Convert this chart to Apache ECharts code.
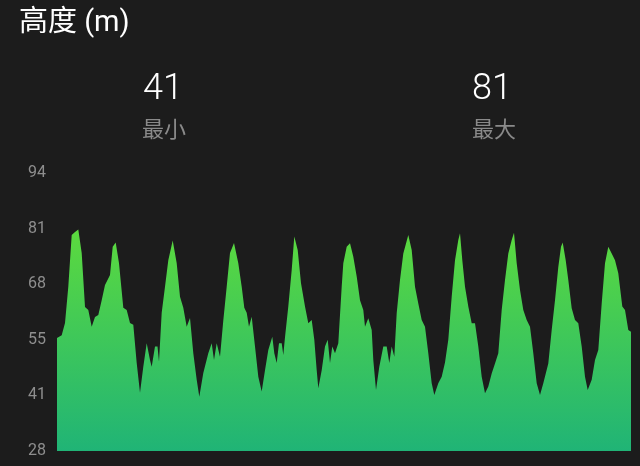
<!DOCTYPE html>
<html>
<head>
<meta charset="utf-8">
<script src="https://cdn.jsdelivr.net/npm/echarts@6/dist/echarts.min.js"></script>
<style>
html,body{margin:0;padding:0;background:#1c1c1c;}
#c{width:640px;height:466px;}
</style>
</head>
<body>
<div id="c"></div>
<script>
// distance along route (arbitrary units) and elevation (m)
var distance = [0,0.47,0.8,1.13,1.47,1.8,2.13,2.47,2.8,3.13,3.47,3.8,4.13,4.47,4.8,5.3,5.57,5.87,6.2,6.63,6.97,7.3,7.63,7.97,8.3,8.63,8.97,9.3,9.47,9.8,10.05,10.2,10.47,10.8,11.13,11.57,11.97,12.3,12.63,12.97,13.3,13.63,13.97,14.23,14.63,15.13,15.47,15.7,15.97,16.3,16.63,16.97,17.3,17.7,18.13,18.47,18.73,18.97,19.2,19.47,19.8,20.13,20.47,20.8,21.13,21.53,21.73,21.97,22.2,22.47,22.63,22.8,23.13,23.47,23.73,24.07,24.4,24.8,25.13,25.47,25.73,25.97,26.13,26.47,26.8,27.07,27.3,27.53,27.8,28.13,28.47,28.63,28.97,29.3,29.63,29.97,30.3,30.63,30.8,31.13,31.47,31.63,31.9,32.23,32.63,32.97,33.23,33.47,33.73,33.97,34.3,34.63,35.13,35.47,35.8,36.13,36.47,36.8,37.13,37.47,37.73,38.13,38.47,38.8,39.13,39.47,39.8,40.13,40.3,40.53,40.8,41.13,41.47,41.8,42.13,42.47,42.8,43.13,43.47,43.8,44.13,44.47,44.8,45.13,45.47,45.7,45.97,46.3,46.63,46.97,47.3,47.63,47.97,48.3,48.63,49.13,49.47,49.8,50.13,50.4,50.57,50.87,51.13,51.47,51.8,52.13,52.47,52.8,53.07,53.47,53.8,54.13,54.47,54.8,55.13,55.47,55.8,56.13,56.53,56.8,57.13,57.4];
var elevation = [54.8,55.5,58.4,67,79.3,80,80.6,75,62.2,61.5,57.5,59.8,60.3,63.8,67.4,69.8,76.5,77.5,72.6,62,61.5,58.4,58,48.9,41.8,48,53.6,49.6,48,52.8,52.8,49.2,60.8,67,73.3,78,72.6,64.6,62,57.5,59.6,51.2,44.9,40.9,46.5,51.2,53.6,49.6,53.6,50.4,59,67,75,77.4,72.6,67,62,60.8,57.5,59.9,52.8,45.6,42.1,47.2,52,55.1,51.2,48.9,53.6,53.6,50.8,55,62.3,71,78.9,75.7,67.8,62.3,58.3,59.1,54.4,47.2,42.9,47.2,52.8,54.4,48.9,52.8,51.2,53.6,67,72.6,76.5,77.3,74.1,69.4,63.8,61.5,57.5,59.5,56.7,49.6,42.5,48,52.8,52.8,48.9,52.8,50.4,60.7,68.6,74.9,79.3,75.7,67,63,59.1,57.5,51.2,44.1,41.3,44.1,45.6,49,54.4,64.6,73.3,78.1,79.7,73.3,67,62.3,58.3,58.3,52.8,45.6,41.7,43.3,46.4,48.8,51.2,61.5,68.6,74.9,78.1,79.8,72.6,66.2,61.5,59.1,57.5,51.2,44.1,41.3,44.1,48.8,56.7,63.8,71.7,76.5,77.5,73.3,68.6,61.9,59.1,58.3,52.8,45.6,42.5,44.9,49.6,52,63,72.6,76.5,74.9,73.3,70.2,62.3,61.5,56.7,56.3];
var yTickValues = [28,41.2,54.4,67.6,80.8,94];
var yTickLabels = ['28','41','55','68','81','94'];
var titleText = '高度 (m)';
var minLabel = '最小';
var maxLabel = '最大';

var pts = distance.map(function(d,i){return [d, elevation[i]];});
var minV = Math.round(Math.min.apply(null, elevation));
var maxV = Math.round(Math.max.apply(null, elevation));

var chart = echarts.init(document.getElementById('c'), null, {renderer:'canvas'});
var ff = "Roboto, 'Noto Sans CJK SC', sans-serif";
chart.setOption({
  backgroundColor: '#1c1c1c',
  animation: false,
  grid: {left:57, right:9, top:173, bottom:15},
  xAxis: {type:'value', min:0, max:distance[distance.length-1], show:false},
  yAxis: {
    type:'value', min:28, max:94,
    axisLine:{show:false}, axisTick:{show:false}, splitLine:{show:false},
    axisLabel:{
      customValues: yTickValues,
      margin: 11,
      padding:[5,0,0,0],
      backgroundColor:'rgba(0,0,0,0)',
      color:'#8e8e8e', fontSize:16, fontFamily: ff,
      formatter: function(v){
        var best=0, bd=1e9;
        for (var i=0;i<yTickValues.length;i++){var dd=Math.abs(yTickValues[i]-v); if(dd<bd){bd=dd;best=i;}}
        return yTickLabels[best];
      }
    }
  },
  graphic: [
    {type:'text', style:{x:19, y:24, text:titleText, fill:'#ffffff', font:'29px '+ff, textVerticalAlign:'middle'}},
    {type:'text', style:{x:163, y:90, text:String(minV), fill:'#ffffff', font:'300 36px '+ff, textAlign:'center', textVerticalAlign:'middle'}},
    {type:'text', style:{x:164, y:131, text:minLabel, fill:'#8a8a8a', font:'22px '+ff, textAlign:'center', textVerticalAlign:'middle'}},
    {type:'text', style:{x:492, y:90, text:String(maxV), fill:'#ffffff', font:'300 36px '+ff, textAlign:'center', textVerticalAlign:'middle'}},
    {type:'text', style:{x:494, y:131, text:maxLabel, fill:'#8a8a8a', font:'22px '+ff, textAlign:'center', textVerticalAlign:'middle'}}
  ],
  series: [{
    type:'line', data: pts, showSymbol:false, smooth:false,
    lineStyle:{width:0},
    areaStyle:{
      opacity:1,
      color: new echarts.graphic.LinearGradient(0,0,0,1,[
        {offset:0, color:'#5cda3e'},
        {offset:1, color:'#20b476'}
      ])
    }
  }]
});
</script>
</body>
</html>
